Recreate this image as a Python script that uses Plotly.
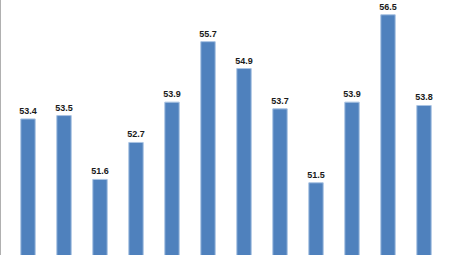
import plotly.graph_objects as go

categories = [str(i) for i in range(1, 13)]
values = [53.4, 53.5, 51.6, 52.7, 53.9, 55.7, 54.9, 53.7, 51.5, 53.9, 56.5, 53.8]
labels = [f"{v:.1f}" for v in values]

fig = go.Figure(go.Bar(
    x=categories, y=values, text=labels, textposition="outside",
    textfont=dict(family="Liberation Sans", size=9, color="#1a1a1a", weight="bold"),
    constraintext="none",
    cliponaxis=False,
    marker=dict(color="#4F81BD", line=dict(color="#a9c3e3", width=1)),
    base=0,
))
fig.update_layout(
    width=453, height=255,
    margin=dict(l=10, r=11, t=0, b=0),
    paper_bgcolor="white", plot_bgcolor="white",
    bargap=0.6, showlegend=False,
    xaxis=dict(visible=False, range=[-0.5, 11.5]),
    yaxis=dict(visible=False, range=[49.35, 56.94]),
    shapes=[dict(type="line", xref="paper", yref="paper",
                 x0=-10/432, x1=-10/432, y0=0, y1=1,
                 line=dict(color="#b0b0b0", width=2))],
)
fig.write_html("out.html")
